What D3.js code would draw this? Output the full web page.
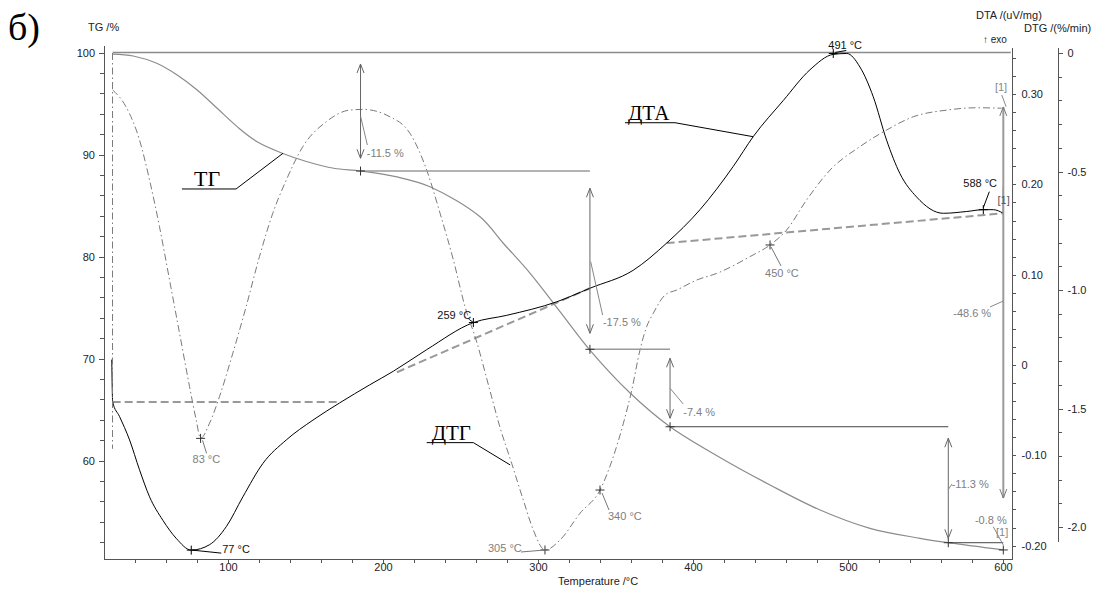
<!DOCTYPE html>
<html><head><meta charset="utf-8">
<script src="https://cdn.jsdelivr.net/npm/d3@7"></script>
<style>
body{margin:0;background:#fff}
svg{display:block}
.axis text{font-size:11px;fill:#222;font-family:"Liberation Sans",Arial,sans-serif}
.axis path,.axis line{stroke:#555;shape-rendering:crispEdges}
</style>
</head><body>
<svg id="c" width="1096" height="592"></svg>
<script>
// ---------------- DATA ----------------
// TG (%)
const tgTemp  = [25.6, 38.9, 54.0, 67.2, 80.1, 93.0, 105.9, 118.8, 135.0, 151.1, 168.3, 185.5, 209.0, 230.3, 262.6, 277.6, 294.8, 314.2, 333.5, 359.4, 385.2, 417.4, 449.7, 482.0, 514.2, 546.5, 564.7, 600.2];
const tgValue = [99.85, 99.66, 98.94, 97.79, 96.32, 94.53, 92.73, 91.25, 90.12, 89.29, 88.65, 88.38, 87.80, 86.84, 83.90, 81.30, 78.38, 74.60, 70.83, 66.62, 63.31, 60.30, 57.60, 55.15, 53.35, 52.37, 51.94, 51.23];
// DTA (uV/mg)
const dtaTemp  = [25.0, 25.6, 30.0, 36.5, 42.9, 49.4, 58.0, 66.6, 76.3, 88.1, 98.9, 109.6, 122.5, 137.6, 154.8, 172.0, 191.4, 206.6, 228.2, 258.3, 279.8, 312.1, 333.5, 361.5, 383.0, 404.5, 426.0, 438.9, 458.3, 475.5, 490.5, 499.2, 507.7, 516.3, 524.9, 533.5, 544.3, 561.5, 576.6, 587.3, 593.8, 600.2];
const dtaValue = [0.006, -0.041, -0.057, -0.083, -0.116, -0.146, -0.172, -0.192, -0.205, -0.199, -0.179, -0.146, -0.109, -0.083, -0.061, -0.042, -0.022, -0.007, 0.017, 0.047, 0.055, 0.070, 0.085, 0.105, 0.135, 0.172, 0.220, 0.253, 0.293, 0.327, 0.344, 0.345, 0.330, 0.297, 0.249, 0.212, 0.186, 0.168, 0.170, 0.172, 0.172, 0.168];
// DTG (%/min)
const dtgTemp  = [25.6, 34.2, 42.9, 49.4, 55.8, 62.3, 68.7, 75.2, 79.5, 82.3, 88.1, 94.5, 103.1, 111.7, 120.3, 128.9, 137.6, 148.3, 163.4, 178.4, 187.0, 204.5, 217.4, 228.2, 236.8, 245.4, 252.9, 260.5, 268.0, 275.5, 283.0, 290.5, 297.0, 304.5, 314.2, 327.1, 340.0, 348.6, 355.1, 360.5, 365.8, 370.1, 374.4, 382.0, 389.5, 402.4, 415.3, 436.8, 449.7, 460.4, 473.3, 488.4, 507.7, 524.9, 542.1, 563.7, 583.0, 599.1];
const dtgValue = [-0.156, -0.227, -0.367, -0.536, -0.733, -0.958, -1.181, -1.408, -1.549, -1.626, -1.562, -1.450, -1.267, -1.070, -0.859, -0.676, -0.536, -0.395, -0.290, -0.241, -0.238, -0.269, -0.339, -0.494, -0.676, -0.873, -1.070, -1.220, -1.400, -1.580, -1.731, -1.886, -2.013, -2.097, -2.055, -1.942, -1.844, -1.703, -1.562, -1.422, -1.253, -1.155, -1.098, -1.021, -1.000, -0.958, -0.930, -0.859, -0.810, -0.747, -0.620, -0.494, -0.395, -0.325, -0.269, -0.241, -0.231, -0.233];
const dtgStartTemp  = [25.5, 25.5];
const dtgStartValue = [0.0, -1.67];
// DTA baselines
const baseTemp  = [[25.6, 172.0], [209.0, 333.5], [383.0, 600.2]];
const baseValue = [[-0.041, -0.041], [-0.008, 0.085], [0.135, 0.168]];

// ticks
const xTicks   = [100, 200, 300, 400, 500, 600];
const tgTicks  = [60, 70, 80, 90, 100];
const dtaTicks = [-0.2, -0.1, 0, 0.1, 0.2, 0.3];
const dtaTickLabels = ["-0.20", "-0.10", "0", "0.10", "0.20", "0.30"];
const dtgTicks = [-2.0, -1.5, -1.0, -0.5, 0];
const dtgTickLabels = ["-2.0", "-1.5", "-1.0", "-0.5", "0"];

// TG step analysis
const stepTemp   = [185.5, 333.5, 385.2, 564.7, 600.2];
const stepLevel  = [88.38, 70.90, 63.31, 51.94, 51.23];
const stepArrowTop    = [98.87, 86.69, 70.02, 62.18];
const stepArrowBottom = [89.63, 72.47, 64.14, 52.37];
const stepLabels = ["-11.5 %", "-17.5 %", "-7.4 %", "-11.3 %", "-0.8 %", "-48.6 %"];
const stepLabelTemp  = [189.5, 341.9, 393.7, 566.9, 581.9, 567.9];
const stepLabelLevel = [89.75, 73.19, 64.36, 57.30, 53.77, 74.10];
const stepLeader = [
  [[185.6, 93.71], [189.9, 90.93]],
  [[334.0, 79.49], [341.7, 74.26]],
  [[385.2, 67.08], [393.7, 65.54]],
  [[564.5, 57.11], [567.1, 57.70]],
  [[593.7, 53.51], [600.2, 51.72]],
  [[600.2, 75.64], [591.6, 75.05]]
];
const totalArrow = {temp: 600.2, top: 94.66, bottom: 56.32};

// peak labels
const dtaPeakTemp   = [76.3, 258.3, 490.5, 587.3];
const dtaPeakValue  = [-0.205, 0.047, 0.345, 0.172];
const dtaPeakLabels = ["77 °C", "259 °C", "491 °C", "588 °C"];
const dtgPeakTemp   = [82.3, 304.5, 340.0, 449.7];
const dtgPeakValue  = [-1.626, -2.097, -1.844, -0.810];
const dtgPeakLabels = ["83 °C", "305 °C", "340 °C", "450 °C"];

// ---------------- SCALES ----------------
const svg = d3.select("#c");
const x    = d3.scaleLinear().domain([20, 605]).range([104, 1010.75]);
const yTG  = d3.scaleLinear().domain([100, 60]).range([52.5, 460.5]);
const yDTA = d3.scaleLinear().domain([0, 0.1]).range([365, 274.7]);
const yDTG = d3.scaleLinear().domain([0, -0.5]).range([53, 171.5]);
const sub = (s, r) => s.copy().domain(r.map(v => s.invert(v))).range(r);
const xA = sub(x, [104, 1011]);
const yTGA = sub(yTG, [45, 559]);
const yDTAA = sub(yDTA, [47, 559]);
const yDTGA = sub(yDTG, [47, 541]);

// ---------------- AXES ----------------
function styleAxis(g){ g.attr("class","axis"); }
const xMinor = d3.range(40, 601, 20);
const tgMinor = d3.range(52, 101, 2);
const dtaMinor = d3.range(-10, 18, 1).map(v => v * 0.02);
const dtgMinor = d3.range(-20, 1, 1).map(v => v * 0.1);

svg.append("g").call(styleAxis).attr("transform","translate(0,559)")
  .call(d3.axisBottom(xA).tickValues(xMinor).tickSize(4).tickFormat("").tickSizeOuter(0));
svg.append("g").call(styleAxis).attr("transform","translate(0,559)")
  .call(d3.axisBottom(xA).tickValues(xTicks).tickSize(4).tickPadding(0).tickSizeOuter(0));

svg.append("g").call(styleAxis).attr("transform","translate(104,0)")
  .call(d3.axisLeft(yTGA).tickValues(tgMinor).tickSize(4).tickFormat("").tickSizeOuter(0));
svg.append("g").call(styleAxis).attr("transform","translate(104,0)")
  .call(d3.axisLeft(yTGA).tickValues(tgTicks).tickSize(5).tickPadding(4).tickSizeOuter(0));

svg.append("g").call(styleAxis).attr("transform","translate(1011.5,0)")
  .call(d3.axisRight(yDTAA).tickValues(dtaMinor).tickSize(4).tickFormat("").tickSizeOuter(0));
svg.append("g").call(styleAxis).attr("transform","translate(1011.5,0)")
  .call(d3.axisRight(yDTAA).tickValues(dtaTicks).tickSize(4).tickPadding(6).tickSizeOuter(0)
    .tickFormat((d,i) => dtaTickLabels[i]));

svg.append("g").call(styleAxis).attr("transform","translate(1057.5,0)")
  .call(d3.axisRight(yDTGA).tickValues(dtgMinor).tickSize(4).tickFormat("").tickSizeOuter(0));
svg.append("g").call(styleAxis).attr("transform","translate(1057.5,0)")
  .call(d3.axisRight(yDTGA).tickValues(dtgTicks).tickSize(5).tickPadding(5).tickSizeOuter(0)
    .tickFormat((d,i) => dtgTickLabels[i]));

// titles
const sans = '"Liberation Sans", Arial, sans-serif';
const serif = '"Liberation Serif", "Times New Roman", serif';
const T = (txt, px, py, size, fill, family, anchor) => svg.append("text").text(txt)
  .attr("x", px).attr("y", py)
  .style("font-size", size + "px").style("fill", fill || "#222")
  .style("font-family", family || sans)
  .attr("text-anchor", anchor || "start");
T("б)", 8, 40, 38, "#000", serif);
T("TG /%", 88, 31, 11);
T("DTA /(uV/mg)", 976, 19, 11);
T("DTG /(%/min)", 1024, 32, 11);
T("↑ exo", 983, 43, 10);
T("Temperature /°C", 558, 585, 11);

// ---------------- CURVES ----------------
const mkLine = (xs, ys, ys2, curve) => d3.line()
  .x(i => x(xs[i])).y(i => ys2(ys[i])).curve(curve || d3.curveMonotoneX)(d3.range(xs.length));

// top 100% reference line
svg.append("path").attr("d", d3.line()([[x(25.6), yTG(100)], [x(605), yTG(100)]]))
  .attr("stroke", "#8a8a8a").attr("stroke-width", 1.4).attr("fill", "none");

// DTA baselines
baseTemp.forEach((bt, k) => {
  svg.append("path").attr("d", mkLine(bt, baseValue[k], yDTA, d3.curveLinear))
    .attr("stroke", "#999").attr("stroke-width", 2).attr("stroke-dasharray", "8,4").attr("fill", "none");
});

// TG
svg.append("path").attr("d", mkLine(tgTemp, tgValue, yTG, d3.curveCatmullRom.alpha(0.5)))
  .attr("stroke", "#8c8c8c").attr("stroke-width", 1.2).attr("fill", "none");
// DTA
svg.append("path").attr("d", mkLine(dtaTemp, dtaValue, yDTA))
  .attr("stroke", "#000").attr("stroke-width", 1).attr("fill", "none");
svg.append("path").attr("d", d3.line()([[x(600.2), yDTA(0.168)], [x(600.2), yDTA(0.197)]]))
  .attr("stroke", "#000").attr("stroke-width", 1).attr("fill", "none");
// DTG
const dtgStyle = p => p.attr("stroke", "#7a7a7a").attr("stroke-width", 1).attr("fill", "none")
  .attr("stroke-dasharray", "7,3,1.5,3");
svg.append("path").attr("d", mkLine(dtgStartTemp, dtgStartValue, yDTG, d3.curveLinear)).call(dtgStyle);
svg.append("path").attr("d", mkLine(dtgTemp, dtgValue, yDTG)).call(dtgStyle);

// ---------------- ANNOTATIONS ----------------
const seg = (p1, p2, color, w) => svg.append("path").attr("d", d3.line()([p1, p2]))
  .attr("stroke", color).attr("stroke-width", w || 1).attr("fill", "none");
const cross = (px, py, color) => {
  seg([px - 4.5, py], [px + 4.5, py], color);
  seg([px, py - 4.5], [px, py + 4.5], color);
};
const head = (px, py, dir, color) => svg.append("path")
  .attr("d", d3.line()([[px - 3.5, py - dir * 9], [px, py], [px + 3.5, py - dir * 9]]))
  .attr("stroke", color).attr("stroke-width", 1).attr("fill", "none");

// step horizontals
const stepColors = ["#9a9a9a", "#9a9a9a", "#444", "#444"];
const stepWidths = [1.5, 1.5, 1, 1];
for (let i = 0; i < 4; i++) {
  seg([x(stepTemp[i]), yTG(stepLevel[i])], [x(stepTemp[i + 1]), yTG(stepLevel[i])], stepColors[i], stepWidths[i]);
}
// step arrows
for (let i = 0; i < 4; i++) {
  const ax = x(stepTemp[i]);
  seg([ax, yTG(stepArrowTop[i])], [ax, yTG(stepArrowBottom[i])], "#666");
  head(ax, yTG(stepArrowTop[i]), -1, "#666");
  head(ax, yTG(stepArrowBottom[i]), 1, "#666");
}
// total arrow
seg([x(totalArrow.temp), yTG(totalArrow.top)], [x(totalArrow.temp), yTG(totalArrow.bottom)], "#9a9a9a", 2);
head(x(totalArrow.temp), yTG(totalArrow.top), -1, "#777");
head(x(totalArrow.temp), yTG(totalArrow.bottom), 1, "#777");
// step markers
stepTemp.forEach((t, i) => cross(x(t), yTG(stepLevel[i]), "#333"));
// step labels
stepLabels.forEach((s, i) => {
  const L = stepLeader[i];
  seg([x(L[0][0]), yTG(L[0][1])], [x(L[1][0]), yTG(L[1][1])], "#888");
  T(s, x(stepLabelTemp[i]), yTG(stepLabelLevel[i]), 11, "#808080");
});
// [1] marks
const bracketTemp  = [594.8, 595.5];
const bracketLevel = [96.23, 52.60];
bracketTemp.forEach((t, i) => T("[1]", x(t), yTG(bracketLevel[i]), 11, "#888"));
seg([x(599.2), yTG(95.83)], [x(602.0), yTG(94.69)], "#888");
T("[1]", x(596.5), yDTA(0.178), 11, "#555");

// DTA peaks (black)
const dtaLab = [
  {dx: 31, dy: 3, lead: [[1, 0], [30, 3]]},
  {dx: -36, dy: -4, lead: [[0, 0], [-4, -3]]},
  {dx: -5, dy: -4, lead: [[2, -1], [13, -3]]},
  {dx: -20, dy: -23, lead: [[0, -2], [6, -18]]}
];
dtaPeakTemp.forEach((t, i) => {
  const px = x(t), py = yDTA(dtaPeakValue[i]);
  cross(px, py, "#000");
  const o = dtaLab[i];
  seg([px + o.lead[0][0], py + o.lead[0][1]], [px + o.lead[1][0], py + o.lead[1][1]], "#000");
  T(dtaPeakLabels[i], px + o.dx, py + o.dy, 11, "#111");
});
// DTG peaks (gray)
const dtgLab = [
  {dx: -8, dy: 25, lead: [[2, 2], [6, 15]]},
  {dx: -57, dy: 2, lead: [[0, 0], [-24, 2]]},
  {dx: 8, dy: 30, lead: [[2, 3], [9, 20]]},
  {dx: -5, dy: 32, lead: [[1, 2], [11, 21]]}
];
dtgPeakTemp.forEach((t, i) => {
  const px = x(t), py = yDTG(dtgPeakValue[i]);
  cross(px, py, "#333");
  const o = dtgLab[i];
  seg([px + o.lead[0][0], py + o.lead[0][1]], [px + o.lead[1][0], py + o.lead[1][1]], "#777");
  T(dtgPeakLabels[i], px + o.dx, py + o.dy, 11, "#808080");
});

// curve names (Cyrillic)
// ТГ
T("ТГ", x(78.1), yTG(86.91), 22, "#000", serif);
svg.append("path").attr("d", d3.line()([[x(70.3), yTG(86.62)], [x(105.2), yTG(86.62)], [x(135.5), yTG(90.12)]]))
  .attr("stroke", "#000").attr("stroke-width", 1).attr("fill", "none");
// ДТА
T("ДТА", x(358.1), yDTA(0.2713), 21, "#000", serif);
svg.append("path").attr("d", d3.line()([[x(356.1), yDTA(0.2683)], [x(388.4), yDTA(0.2683)], [x(438.9), yDTA(0.2528)]]))
  .attr("stroke", "#000").attr("stroke-width", 1).attr("fill", "none");
// ДТГ
T("ДТГ", x(231.4), yDTG(-1.633), 21, "#000", serif);
svg.append("path").attr("d", d3.line()([[x(228.2), yDTG(-1.644)], [x(258.3), yDTG(-1.644)], [x(282.0), yDTG(-1.738)]]))
  .attr("stroke", "#000").attr("stroke-width", 1).attr("fill", "none");
</script>
</body></html>
